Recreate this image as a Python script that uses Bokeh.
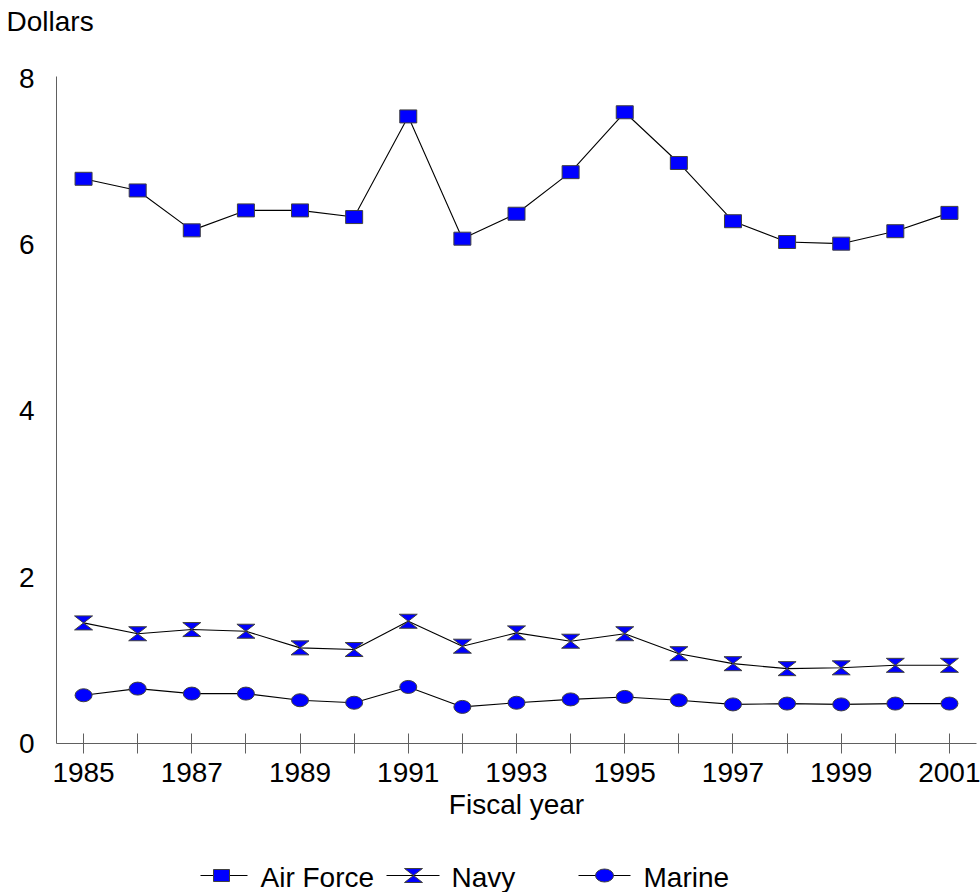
import numpy as np
from bokeh.plotting import figure
from bokeh.layouts import column
from bokeh.models import FixedTicker, Title
from bokeh.embed import file_html
from bokeh.resources import INLINE

# ---- data ----
years = list(range(1985, 2002))
air_force = [6.79, 6.65, 6.17, 6.41, 6.41, 6.33, 7.54, 6.07, 6.37, 6.87, 7.59, 6.98, 6.28, 6.03, 6.01, 6.16, 6.38]
navy = [1.45, 1.32, 1.37, 1.35, 1.15, 1.13, 1.47, 1.17, 1.33, 1.23, 1.32, 1.08, 0.96, 0.90, 0.91, 0.94, 0.94]
marine = [0.58, 0.66, 0.60, 0.60, 0.52, 0.49, 0.68, 0.44, 0.49, 0.53, 0.56, 0.52, 0.47, 0.48, 0.47, 0.48, 0.48]
y_ticks = [0, 2, 4, 6, 8]
x_label_years = [1985, 1987, 1989, 1991, 1993, 1995, 1997, 1999, 2001]
series_names = ["Air Force", "Navy", "Marine"]
y_title = "Dollars"
x_title = "Fiscal year"

FONT = "Liberation Sans"
FS = "28px"
BLUE = "#0000FF"
EDGE = "#404040"
AXIS = "#606060"

BL, BR, BT, BB = 56, 4, 76, 95
FRAME_W, FRAME_H = 920, 667
X0, X1 = 1984.5, 2001.5
Y0, Y1 = 0, 8.02

# ---- main plot ----
p = figure(title=None, frame_width=FRAME_W, frame_height=FRAME_H,
           min_border_left=BL, min_border_right=BR, min_border_top=BT, min_border_bottom=BB,
           x_range=(X0, X1), y_range=(Y0, Y1),
           output_backend="svg", toolbar_location=None)
p.outline_line_color = None
p.xgrid.visible = False
p.ygrid.visible = False

# spacer (nearest the frame), then the y-axis title above it
p.add_layout(Title(text=" ", text_font_size="1px", standoff=37), "above")
p.add_layout(Title(text=y_title, align="left", offset=-50, standoff=0, vertical_align="bottom",
                   text_font=FONT, text_font_size=FS, text_font_style="normal",
                   text_color="black"), "above")

p.line(years, air_force, line_color="black", line_width=1.1)
p.line(years, navy, line_color="black", line_width=1.1)
p.line(years, marine, line_color="black", line_width=1.1)

p.rect(years, air_force, width=17, height=13, width_units="screen", height_units="screen",
       fill_color=BLUE, line_color=EDGE, line_width=1)

px_per_x = FRAME_W / (X1 - X0)
px_per_y = FRAME_H / (Y1 - Y0)
dx = 9 / px_per_x
dy = 7 / px_per_y
hx = [[x - dx, x + dx, x - dx, x + dx] for x in years]
hy = [[y + dy, y + dy, y - dy, y - dy] for y in navy]
p.patches(hx, hy, fill_color=BLUE, line_color=EDGE, line_width=1)

p.ellipse(years, marine, width=17, height=13, width_units="screen", height_units="screen",
          fill_color=BLUE, line_color=EDGE, line_width=1)

p.xaxis.ticker = FixedTicker(ticks=years)
p.xaxis.major_label_overrides = {y: (str(y) if y in x_label_years else "") for y in years}
p.xaxis.major_tick_in = 10
p.xaxis.major_tick_out = 10
p.xaxis.minor_tick_line_color = None
p.xaxis.axis_line_color = AXIS
p.xaxis.major_tick_line_color = AXIS
p.xaxis.major_label_text_font = FONT
p.xaxis.major_label_text_font_size = FS
p.xaxis.major_label_text_color = "black"
p.xaxis.major_label_standoff = 9
p.xaxis.axis_label = x_title
p.xaxis.axis_label_text_font = FONT
p.xaxis.axis_label_text_font_size = FS
p.xaxis.axis_label_text_font_style = "normal"
p.xaxis.axis_label_text_color = "black"
p.xaxis.axis_label_standoff = 4

p.yaxis.ticker = FixedTicker(ticks=y_ticks)
p.yaxis.major_tick_in = 0
p.yaxis.major_tick_out = 0
p.yaxis.minor_tick_line_color = None
p.yaxis.axis_line_color = AXIS
p.yaxis.major_label_text_font = FONT
p.yaxis.major_label_text_font_size = FS
p.yaxis.major_label_text_color = "black"
p.yaxis.major_label_standoff = 22

# ---- legend (x in page pixels; frame aligned with the main plot) ----
LH = 54
lg = figure(frame_width=FRAME_W, frame_height=LH, min_border_left=BL, min_border_right=BR,
            min_border_top=0, min_border_bottom=0,
            x_range=(BL, BL + FRAME_W), y_range=(0, LH),
            output_backend="svg", toolbar_location=None)
lg.axis.visible = False
lg.xgrid.visible = False
lg.ygrid.visible = False
lg.outline_line_color = None

cy = 17
base = 15
line_x0 = [200, 386, 578]
line_x1 = [247, 439, 630]
mark_x = [221, 413, 604]
text_x = [260, 451, 643]

lg.segment(x0=line_x0, y0=[cy] * 3, x1=line_x1, y1=[cy] * 3, line_color="black", line_width=1.1)
lg.rect([mark_x[0]], [cy], width=16, height=12, fill_color=BLUE, line_color=EDGE, line_width=1)
lg.patches([[mark_x[1] - 9, mark_x[1] + 9, mark_x[1] - 9, mark_x[1] + 9]],
           [[cy + 7, cy + 7, cy - 7, cy - 7]], fill_color=BLUE, line_color=EDGE, line_width=1)
lg.ellipse([mark_x[2]], [cy], width=18, height=13, fill_color=BLUE, line_color=EDGE, line_width=1)
lg.text(x=text_x, y=[base] * 3, text=series_names, text_font={"value": FONT},
        text_font_size={"value": FS}, text_color="black", text_baseline="alphabetic")

layout = column(p, lg, spacing=0)
open("out.html", "w").write(file_html(layout, INLINE))
